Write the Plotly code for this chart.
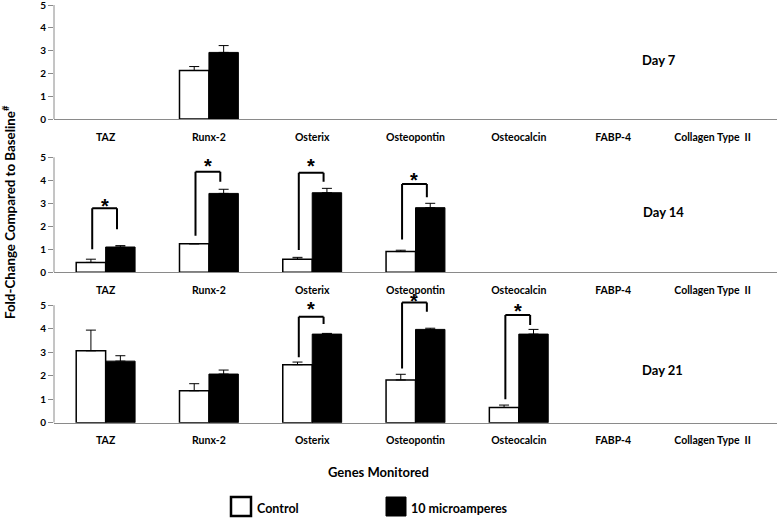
import plotly.graph_objects as go

genes = ["TAZ", "Runx-2", "Osterix", "Osteopontin", "Osteocalcin", "FABP-4", "Collagen Type  II"]
days = ["Day 7", "Day 14", "Day 21"]

ctrl_d7 = [None, 2.13, None, None, None, None, None]
ctrl_d7_err = [None, 0.17, None, None, None, None, None]
stim_d7 = [None, 2.92, None, None, None, None, None]
stim_d7_err = [None, 0.30, None, None, None, None, None]

ctrl_d14 = [0.43, 1.24, 0.57, 0.90, None, None, None]
ctrl_d14_err = [0.14, 0.0, 0.08, 0.06, None, None, None]
stim_d14 = [1.10, 3.43, 3.46, 2.81, None, None, None]
stim_d14_err = [0.06, 0.18, 0.19, 0.19, None, None, None]

ctrl_d21 = [3.06, 1.36, 2.47, 1.82, 0.65, None, None]
ctrl_d21_err = [0.88, 0.30, 0.11, 0.24, 0.10, None, None]
stim_d21 = [2.62, 2.07, 3.77, 3.97, 3.77, None, None]
stim_d21_err = [0.23, 0.17, 0.03, 0.05, 0.20, None, None]

# significance brackets: (gene index, left start, right start, top, asterisk height)
brackets_d14 = [(0, 1.00, 1.87, 2.78, 3.07), (1, 1.59, 3.94, 4.37, 4.78),
                (2, 0.97, 3.94, 4.33, 4.78), (3, 1.43, 3.26, 3.84, 4.19)]
brackets_d21 = [(2, 2.78, 4.20, 4.51, 5.02), (3, 2.31, 4.72, 5.12, 5.34), (4, 1.00, 4.16, 4.58, 4.94)]

panels = [
    (ctrl_d7, ctrl_d7_err, stim_d7, stim_d7_err, []),
    (ctrl_d14, ctrl_d14_err, stim_d14, stim_d14_err, brackets_d14),
    (ctrl_d21, ctrl_d21_err, stim_d21, stim_d21_err, brackets_d21),
]

W, H = 777, 519
L = 54
# pixel placements of each panel: (pixel of value 0, pixel per unit, range top)
panel_px = [(119.0, 22.8, 5.2), (272.3, 23.0, 5.5), (422.7, 23.5, 5.6)]
day_label_px = [(659, 60), (663, 212), (662, 370)]
# the last two category labels sit left of their slot centre in the original
label_pad = [0, 0, 0, 0, 0, 7, 10]
tick_text = [g + "\u00a0" * n for g, n in zip(genes, label_pad)]

FONT = "Lato"
GRAY = "#8a8a8a"

fig = go.Figure()
xs = list(range(len(genes)))
shapes = []
annotations = []

for p, (c, ce, s, se, brs) in enumerate(panels):
    ax = "" if p == 0 else str(p + 1)
    fig.add_trace(go.Bar(
        x=xs, y=c, name="Control", marker=dict(color="white", line=dict(color="black", width=1.5)),
        error_y=dict(type="data", array=ce, arrayminus=[0] * len(ce), symmetric=False,
                     color="black", thickness=1, width=5),
        xaxis="x" + ax, yaxis="y" + ax, showlegend=False, offsetgroup="c"))
    fig.add_trace(go.Bar(
        x=xs, y=s, name="10 microamperes", marker=dict(color="black", line=dict(color="black", width=1)),
        error_y=dict(type="data", array=se, arrayminus=[0] * len(se), symmetric=False,
                     color="black", thickness=1, width=5),
        xaxis="x" + ax, yaxis="y" + ax, showlegend=False, offsetgroup="s"))

    zero_px, ppu, rtop = panel_px[p]
    top_px = zero_px - ppu * rtop
    dom = [1 - zero_px / H, min(1.0, 1 - top_px / H)]
    fig.update_layout({
        "xaxis" + ax: dict(domain=[0, 1], range=[-0.5, len(genes) - 0.5], tickvals=xs, ticktext=tick_text,
                           showline=True, linecolor=GRAY, linewidth=1, ticks="", showgrid=False,
                           zeroline=False, anchor="y" + ax, ticklabelstandoff=8, automargin=False,
                           ticklabeloverflow="allow",
                           tickfont=dict(family=FONT, size=10.5, color="black", weight="bold")),
        "yaxis" + ax: dict(domain=dom, range=[0, rtop], tickvals=[0, 1, 2, 3, 4, 5],
                           showline=False, ticks="outside", ticklen=5, tickcolor=GRAY, showgrid=False,
                           zeroline=False, anchor="x" + ax, automargin=False, ticklabeloverflow="allow",
                           tickfont=dict(family=FONT, size=10, color="black", weight="bold")),
    })
    # y axis spine only from 0 to 5
    shapes.append(dict(type="line", xref="x" + ax + " domain", yref="y" + ax, x0=0, x1=0, y0=0, y1=5,
                       line=dict(color=GRAY, width=1)))
    for (g, ls, rs, top, star) in brs:
        xl, xr = g - 0.13, g + 0.11
        for (x0, y0, x1, y1) in [(xl, ls, xl, top), (xl, top, xr, top), (xr, top, xr, rs)]:
            shapes.append(dict(type="line", xref="x" + ax, yref="y" + ax, x0=x0, x1=x1, y0=y0, y1=y1,
                               line=dict(color="black", width=2)))
        annotations.append(dict(x=(xl + xr) / 2, y=star, xref="x" + ax, yref="y" + ax, text="<b>*</b>",
                                showarrow=False, yanchor="middle", xanchor="center", yshift=-4,
                                font=dict(family="Liberation Sans", size=20, color="black")))
    dx, dy = day_label_px[p]
    annotations.append(dict(x=(dx - L) / (W - L), y=1 - dy / H, xref="paper", yref="paper",
                            xanchor="center", yanchor="middle",
                            text="<b>" + days[p] + "</b>", showarrow=False,
                            font=dict(family=FONT, size=13, color="black")))


def px_x(v):
    return (v - L) / (W - L)


def px_y(v):
    return 1 - v / H


annotations.append(dict(x=px_x(9), y=px_y(212), xref="paper", yref="paper", xanchor="center", yanchor="middle",
                        text="<b>Fold-Change Compared to Baseline<sup>#</sup></b>", textangle=-90,
                        showarrow=False, font=dict(family=FONT, size=13.3, color="black")))
annotations.append(dict(x=px_x(378), y=px_y(472), xref="paper", yref="paper", xanchor="center", yanchor="middle",
                        text="<b>Genes Monitored</b>", showarrow=False,
                        font=dict(family=FONT, size=13, color="black")))

# legend
shapes.append(dict(type="rect", xref="paper", yref="paper", x0=px_x(231), x1=px_x(251), y0=px_y(516),
                   y1=px_y(497), line=dict(color="black", width=2.5), fillcolor="white"))
shapes.append(dict(type="rect", xref="paper", yref="paper", x0=px_x(386), x1=px_x(406), y0=px_y(516),
                   y1=px_y(497), line=dict(color="black", width=1), fillcolor="black"))
annotations.append(dict(x=px_x(255), y=px_y(508), xref="paper", yref="paper", xanchor="left", yanchor="middle",
                        text="<b>Control</b>", showarrow=False, font=dict(family=FONT, size=12.5, color="black")))
annotations.append(dict(x=px_x(409), y=px_y(508), xref="paper", yref="paper", xanchor="left", yanchor="middle",
                        text="<b>10 microamperes</b>", showarrow=False, font=dict(family=FONT, size=12.5, color="black")))

fig.update_layout(
    width=W, height=H, margin=dict(l=L, r=0, t=0, b=0, pad=0),
    paper_bgcolor="white", plot_bgcolor="white",
    barmode="group", bargap=0.43, bargroupgap=0,
    shapes=shapes, annotations=annotations,
)

fig.write_html("out.html", config={"displayModeBar": False},
               post_script="document.body.style.margin='0';document.body.style.overflow='hidden';")
